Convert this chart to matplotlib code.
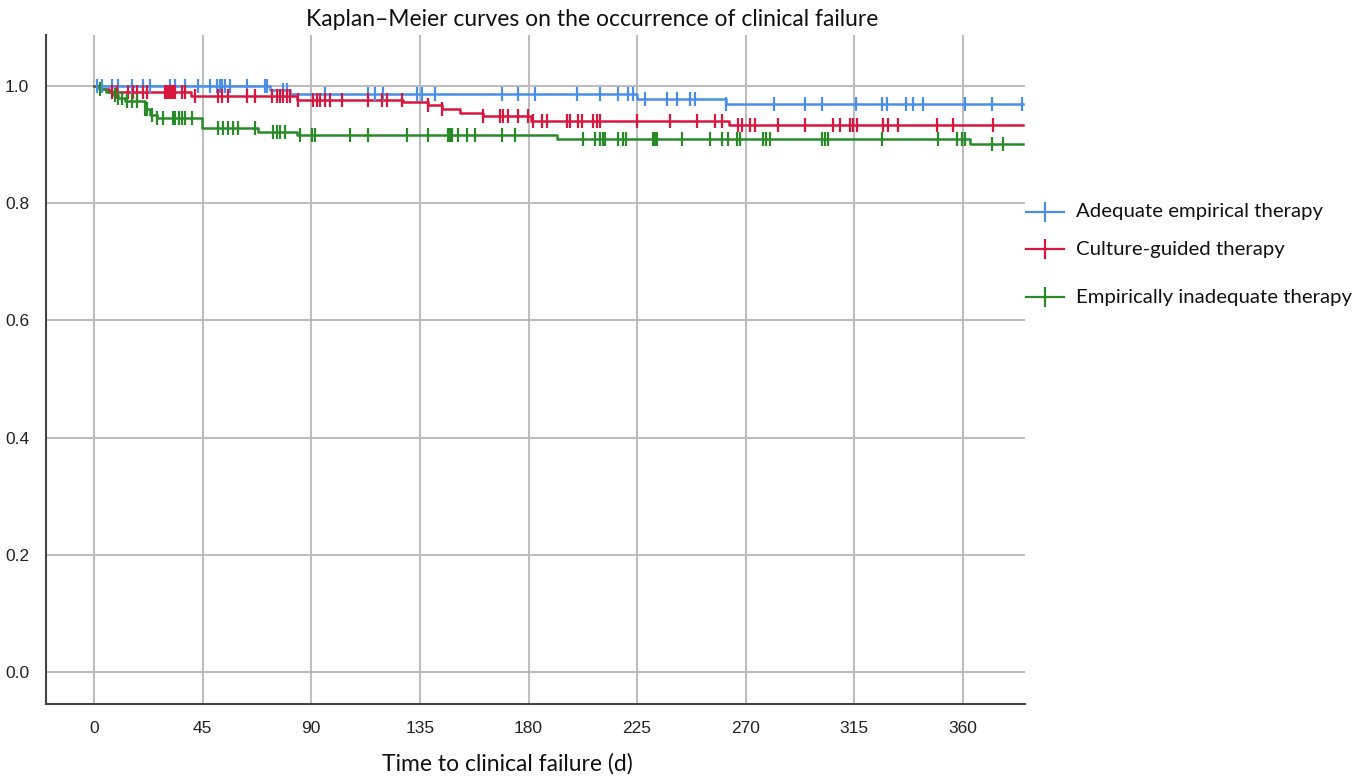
import numpy as np
import matplotlib
matplotlib.use("Agg")
import matplotlib.pyplot as plt
from matplotlib.lines import Line2D

# step times (days) and survival after each step
blue_t = [0, 73, 81, 225, 262, 385]
blue_s = [1.0, 0.993, 0.987, 0.977, 0.969, 0.969]
blue_cens = [1.1, 3.2, 7.3, 10, 15.6, 20.4, 23.2, 31.5, 33.6, 37.7, 43.2, 48, 50.8,
             52.2, 52.9, 54.3, 56.3, 63.2, 70.8, 71.5, 78.4, 79.8, 95.7, 113.6, 116.4,
             119.9, 133.7, 135.7, 141.3, 168.9, 175.8, 182.7, 200, 209.6, 217.2, 221.3,
             223.4, 228.3, 237.2, 241.4, 246.9, 249, 262, 281.8, 294.5, 301.7, 315.7,
             326.3, 328.4, 336.6, 339.4, 343.5, 360.8, 371.9, 384.3]

red_t = [0, 3, 6, 40, 84, 128, 138.5, 144, 151.6, 161, 181, 263, 385]
red_s = [1.0, 0.995, 0.990, 0.983, 0.976, 0.973, 0.968, 0.960, 0.954, 0.948, 0.940,
         0.934, 0.934]
red_cens = [7.3, 9.4, 14.2, 16.3, 17.7, 20.4, 21.8, 29.4, 30.1, 30.8, 31.5, 32.2,
            32.8, 33.6, 36.3, 37.7, 41.8, 51.5, 52.9, 55.6, 63.2, 66.7, 73.6, 75.7,
            77.1, 78.4, 79.8, 81.2, 84.6, 90.9, 92.3, 93.7, 95.7, 97.8, 102.6, 113.6,
            119.2, 121.2, 127.5, 138.5, 144, 161, 168.2, 169.5, 171.6, 175.8, 179.9,
            182, 185.5, 187.5, 195.8, 197.2, 200.6, 202, 206.8, 208.2, 209.6, 224.8,
            238.6, 249.7, 257.2, 260, 266.9, 268.3, 271.7, 273.8, 283.5, 294.5, 306.3,
            309, 313.2, 314.5, 315.9, 327, 329, 333.2, 349.1, 356, 372.5]

green_t = [0, 2, 5, 8, 10, 13, 21, 23, 26, 44.6, 68, 84, 192, 363, 385]
green_s = [1.0, 0.995, 0.990, 0.985, 0.980, 0.975, 0.960, 0.951, 0.945, 0.929, 0.922,
           0.916, 0.909, 0.901, 0.901]
green_cens = [2.5, 8.7, 10.1, 11.5, 13.5, 15.6, 17.7, 21.1, 21.8, 23.9, 26, 28.7, 32.8,
              33.6, 35, 36.3, 37.7, 40.5, 51.5, 53.6, 55.6, 57.7, 59.8, 66.7, 74.3,
              75.7, 77.1, 79.1, 85.3, 90.2, 91.5, 106, 113.6, 129.5, 138.5, 146.8,
              147.5, 148.2, 150.9, 154.4, 157.8, 168.9, 174.4, 202.7, 207.5, 209.6,
              211, 211.7, 217.2, 219.3, 220.6, 231.7, 232.4, 233.1, 243.4, 255.2, 260,
              262.8, 266.2, 267.6, 277.3, 278.6, 280, 301.4, 302.8, 304.2, 326.3,
              349.8, 357.4, 359.4, 360.8, 371.9, 376.7]

labels = ["Adequate empirical therapy", "Culture-guided therapy",
          "Empirically inadequate therapy"]
colors = ["#4A8FE7", "#D8173F", "#2A8A2A"]
x_ticks = [0, 45, 90, 135, 180, 225, 270, 315, 360]
y_ticks = [0.0, 0.2, 0.4, 0.6, 0.8, 1.0]

fig = plt.figure(figsize=(13.67, 7.77), dpi=100)
ax = fig.add_axes([46 / 1367, 1 - 704 / 777, (1025 - 46) / 1367, (704 - 35) / 777])

groups = [(blue_t, blue_s, blue_cens), (red_t, red_s, red_cens),
          (green_t, green_s, green_cens)]
for (t, s, cens), c in zip(groups, colors):
    t = np.array(t)
    s = np.array(s)
    ax.step(t, s, where="post", color=c, lw=1.8, zorder=3)
    # censored cases sit on the curve at their time
    cens = np.array(cens)
    idx = np.searchsorted(t, cens, side="right") - 1
    ax.plot(cens, s[idx], ls="none", marker="|", ms=10, mew=1.6, color=c, zorder=4)

ax.set_xlim(-19.9, 385.7)
ax.set_ylim(-0.0546, 1.087)
ax.set_xticks(x_ticks)
ax.set_yticks(y_ticks)
ax.set_yticklabels([f"{v:.1f}" for v in y_ticks])
ax.grid(True, color="#bdbdbd", lw=1.5)
ax.set_axisbelow(True)
for side in ["top", "right"]:
    ax.spines[side].set_visible(False)
for side in ["left", "bottom"]:
    ax.spines[side].set_color("#444444")
    ax.spines[side].set_linewidth(1.5)
ax.tick_params(length=0, labelsize=12.5, pad=12)
for lab in ax.get_xticklabels() + ax.get_yticklabels():
    lab.set_fontfamily("Liberation Sans")
    lab.set_color("#222222")

fig.text(592 / 1367, 1 - 20 / 777, "Kaplan\u2013Meier curves on the occurrence of clinical failure",
         ha="center", va="center", fontsize=16.5, family="Lato", color="#111111")
fig.text(507 / 1367, 1 - 764 / 777, "Time to clinical failure (d)",
         ha="center", va="center", fontsize=16.5, family="Lato", color="#111111")

# legend drawn by hand because the entries are unevenly spaced
leg_y = [212, 249, 297]
for lab, c, yy in zip(labels, colors, leg_y):
    yf = 1 - yy / 777
    fig.add_artist(Line2D([1026 / 1367, 1064 / 1367], [yf, yf], color=c, lw=1.6))
    fig.add_artist(Line2D([1045 / 1367], [yf], marker="|", ms=14, mew=1.6, color=c))
    fig.text(1076 / 1367, yf, lab, ha="left", va="center", fontsize=14.7,
             family="Lato", color="#111111")

fig.savefig("out.png", dpi=100)
